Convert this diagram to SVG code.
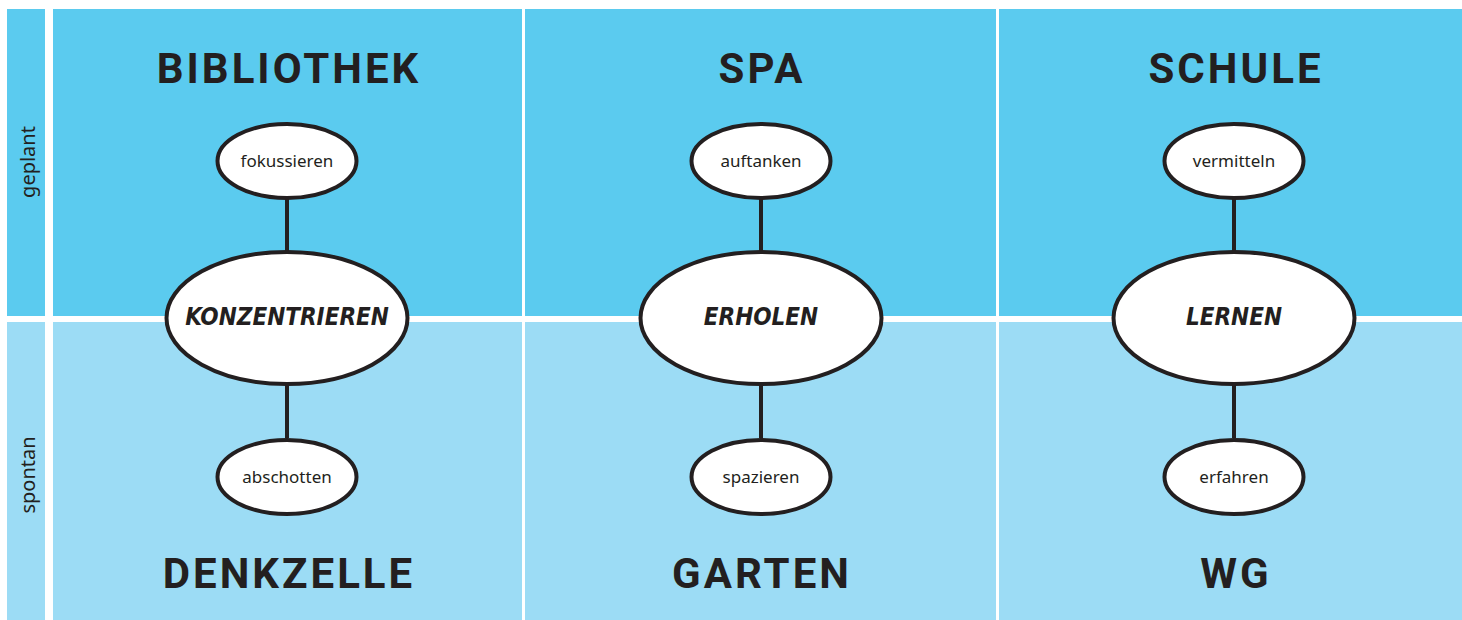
<svg xmlns="http://www.w3.org/2000/svg" width="1462" height="620" viewBox="0 0 1462 620">
<style>
.top{fill:#5BCBEF}
.bot{fill:#9CDCF5}
.title{font-family:Roboto,"Liberation Sans",sans-serif;font-weight:bold;font-size:42px;fill:#231F20;text-anchor:middle;letter-spacing:3px}
.small{fill:#fff;stroke:#231F20;stroke-width:4}
.big{fill:#fff;stroke:#231F20;stroke-width:4}
.lbl{font-family:"Noto Sans","Liberation Sans",sans-serif;font-size:17px;fill:#231F20;text-anchor:middle}
.core{font-family:"DejaVu Sans Condensed","DejaVu Sans",sans-serif;font-weight:bold;font-style:italic;font-size:24px;fill:#231F20;text-anchor:middle}
.side{font-family:"Noto Sans","Liberation Sans",sans-serif;font-size:20px;fill:#231F20;text-anchor:middle}
.conn{stroke:#231F20;stroke-width:4}
</style>
<g id="background">
<rect x="7" y="9" width="38" height="307" class="top"/>
<rect x="7" y="322" width="38" height="298" class="bot"/>
<rect x="53" y="9" width="469" height="307" class="top"/>
<rect x="525" y="9" width="471" height="307" class="top"/>
<rect x="999" y="9" width="463" height="307" class="top"/>
<rect x="53" y="322" width="469" height="298" class="bot"/>
<rect x="525" y="322" width="471" height="298" class="bot"/>
<rect x="999" y="322" width="463" height="298" class="bot"/>
</g>
<g id="row-labels">
<text class="side" transform="translate(35,162) rotate(-90)">geplant</text>
<text class="side" transform="translate(35,475) rotate(-90)">spontan</text>
</g>
<g id="titles">
<text class="title" x="289" y="83">BIBLIOTHEK</text>
<text class="title" x="762" y="83">SPA</text>
<text class="title" x="1236" y="83">SCHULE</text>
<text class="title" x="289" y="588">DENKZELLE</text>
<text class="title" x="762" y="588">GARTEN</text>
<text class="title" x="1236" y="588">WG</text>
</g>
<g id="connectors">
<line class="conn" x1="287" y1="199" x2="287" y2="252"/>
<line class="conn" x1="287" y1="384" x2="287" y2="438"/>
<line class="conn" x1="761" y1="199" x2="761" y2="252"/>
<line class="conn" x1="761" y1="384" x2="761" y2="438"/>
<line class="conn" x1="1234" y1="199" x2="1234" y2="252"/>
<line class="conn" x1="1234" y1="384" x2="1234" y2="438"/>
</g>
<g id="node-fokussieren"><ellipse class="small" cx="287" cy="161" rx="69.5" ry="37"/><text class="lbl" x="287" y="167">fokussieren</text></g>
<g id="node-konzentrieren"><ellipse class="big" cx="287" cy="318" rx="120.5" ry="66"/><text class="core" x="287" y="325">KONZENTRIEREN</text></g>
<g id="node-abschotten"><ellipse class="small" cx="287" cy="477" rx="69.5" ry="37"/><text class="lbl" x="287" y="483">abschotten</text></g>
<g id="node-auftanken"><ellipse class="small" cx="761" cy="161" rx="69.5" ry="37"/><text class="lbl" x="761" y="167">auftanken</text></g>
<g id="node-erholen"><ellipse class="big" cx="761" cy="318" rx="120.5" ry="66"/><text class="core" x="761" y="325">ERHOLEN</text></g>
<g id="node-spazieren"><ellipse class="small" cx="761" cy="477" rx="69.5" ry="37"/><text class="lbl" x="761" y="483">spazieren</text></g>
<g id="node-vermitteln"><ellipse class="small" cx="1234" cy="161" rx="69.5" ry="37"/><text class="lbl" x="1234" y="167">vermitteln</text></g>
<g id="node-lernen"><ellipse class="big" cx="1234" cy="318" rx="120.5" ry="66"/><text class="core" x="1234" y="325">LERNEN</text></g>
<g id="node-erfahren"><ellipse class="small" cx="1234" cy="477" rx="69.5" ry="37"/><text class="lbl" x="1234" y="483">erfahren</text></g>
</svg>
